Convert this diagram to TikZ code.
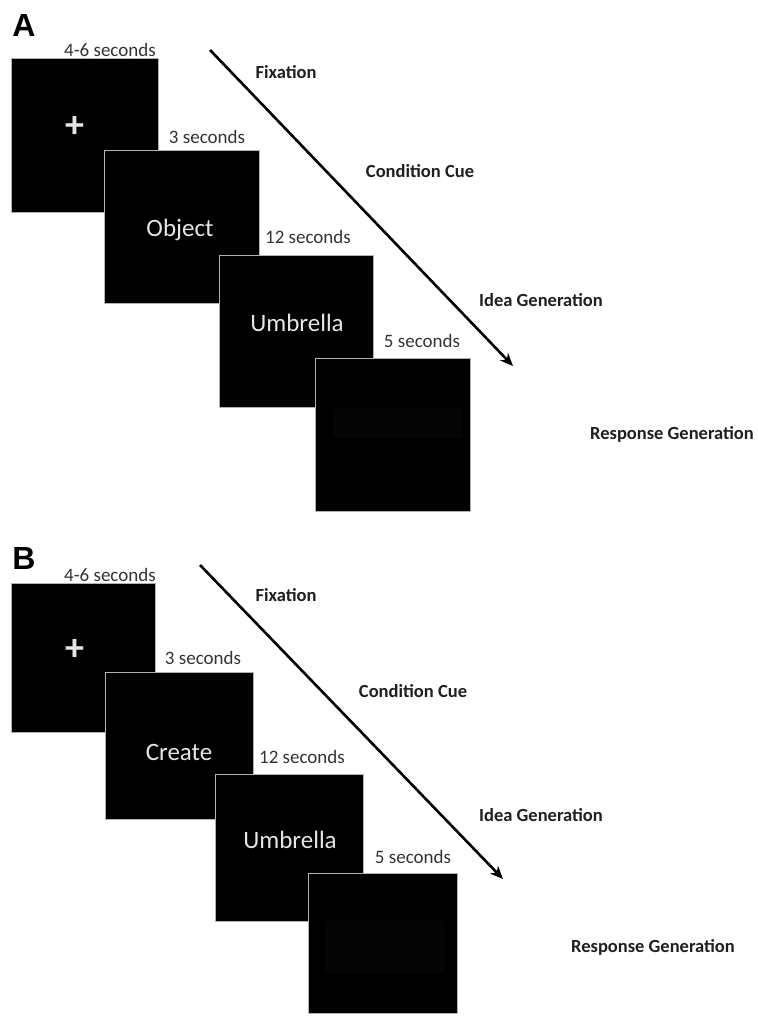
\documentclass[tikz,border=0pt]{standalone}
\usepackage{fontspec}
\setmainfont{Carlito}
\newfontfamily\panelfont{Liberation Sans}
\usetikzlibrary{arrows.meta}

\tikzset{
  screen/.style={rectangle, fill=black, draw=black!30, line width=0.8pt, anchor=north west, inner sep=0pt},
  blank/.style={rectangle, rounded corners=4pt, fill=black!98, anchor=north west, inner sep=0pt},
  dur/.style={text=black!80, font=\fontsize{19}{22}\selectfont, inner sep=0pt},
  phase/.style={text=black!88, font=\bfseries\fontsize{18.5}{22}\selectfont, inner sep=0pt},
  cue/.style={text=white!90!black, font=\fontsize{25}{29}\selectfont, inner sep=0pt},
  fixcross/.style={text=white!90!black, font=\bfseries\fontsize{38}{42}\selectfont, inner sep=0pt},
  panel/.style={font=\panelfont\bfseries\fontsize{32}{36}\selectfont, inner sep=0pt},
  timeline/.style={line width=2.6pt, -{Stealth[length=13pt,width=11pt]}},
}

\begin{document}
\begin{tikzpicture}[x=1pt, y=-1pt]
            \useasboundingbox (0,0) rectangle (757,1019);

            % panel A
            \node[panel] (A) at (24,25) {A};
            \node[screen, minimum width=147pt, minimum height=154pt] (a1) at (11,58) {};
            \node[screen, minimum width=155pt, minimum height=153pt] (a2) at (104,150) {};
            \node[screen, minimum width=154pt, minimum height=152pt] (a3) at (219,255) {};
            \node[screen, minimum width=155pt, minimum height=153pt] (a4) at (315,358) {};
            \node[blank, minimum width=130pt, minimum height=30pt] (a4blank) at (333,408) {};

            \node[fixcross] (aPlus) at (75,127) {+};
            \node[cue] (aObj) at (180,230) {Object};
            \node[cue] (aUmb) at (297,323) {Umbrella};

            \node[dur] (aT1) at (110,50) {4-6 seconds};
            \node[dur] (aT2) at (207,137) {3 seconds};
            \node[dur] (aT3) at (308,237) {12 seconds};
            \node[dur] (aT4) at (422,341) {5 seconds};

            \coordinate (aStart) at (210,50);
            \coordinate (aEnd) at (513,366);
            \draw[timeline] (aStart) -- (aEnd);

            \node[phase] (aFix) at (286,72) {Fixation};
            \node[phase] (aCond) at (420,171) {Condition Cue};
            \node[phase] (aIdea) at (541,300) {Idea Generation};
            \node[phase] (aResp) at (672,434) {Response Generation};

            % panel B
            \node[panel] (B) at (24,558) {B};
            \node[screen, minimum width=144pt, minimum height=149pt] (b1) at (11,583) {};
            \node[screen, minimum width=148pt, minimum height=147pt] (b2) at (105,672) {};
            \node[screen, minimum width=148pt, minimum height=147pt] (b3) at (215,774) {};
            \node[screen, minimum width=149pt, minimum height=140pt] (b4) at (308,873) {};
            \node[blank, minimum width=120pt, minimum height=53pt] (b4blank) at (325,920) {};

            \node[fixcross] (bPlus) at (75,650) {+};
            \node[cue] (bCre) at (179,752) {Create};
            \node[cue] (bUmb) at (290,840) {Umbrella};

            \node[dur] (bT1) at (110,575) {4-6 seconds};
            \node[dur] (bT2) at (203,658) {3 seconds};
            \node[dur] (bT3) at (302,757) {12 seconds};
            \node[dur] (bT4) at (413,857) {5 seconds};

            \coordinate (bStart) at (200,565);
            \coordinate (bEnd) at (503,879);
            \draw[timeline] (bStart) -- (bEnd);

            \node[phase] (bFix) at (286,595) {Fixation};
            \node[phase] (bCond) at (413,691) {Condition Cue};
            \node[phase] (bIdea) at (541,815) {Idea Generation};
            \node[phase] (bResp) at (653,947) {Response Generation};
\end{tikzpicture}
\end{document}
